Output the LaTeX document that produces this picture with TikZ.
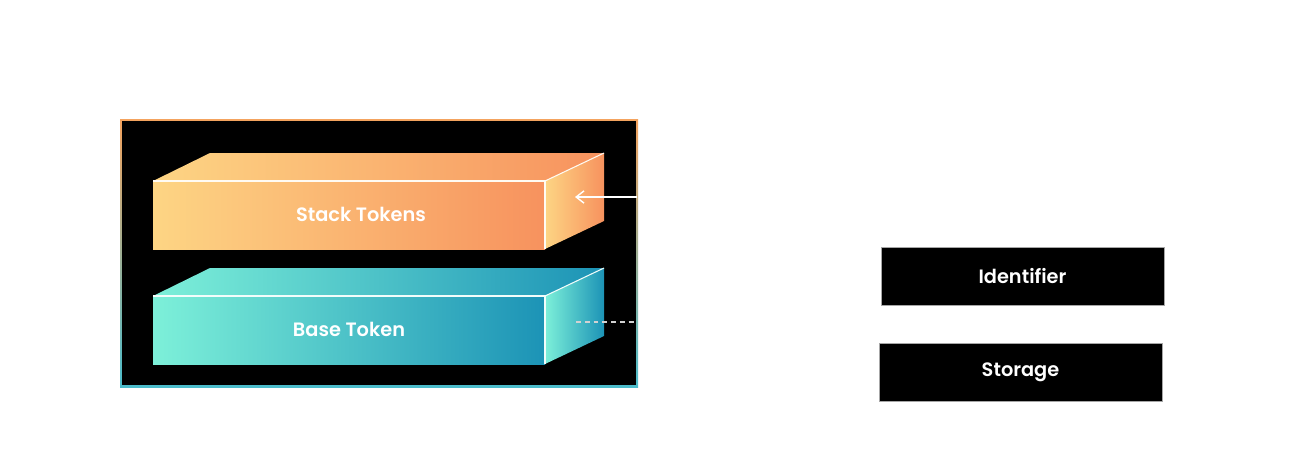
\documentclass[tikz,border=0pt]{standalone}
\usepackage{fontspec}
\setmainfont{Poppins}
\newfontfamily\semibold{Poppins SemiBold}
\usepackage{tikz}
\usetikzlibrary{arrows.meta}

\definecolor{stackL}{HTML}{FDD584}
\definecolor{stackR}{HTML}{F7925E}
\definecolor{baseL}{HTML}{7DF0D9}
\definecolor{baseR}{HTML}{1C93B6}
\definecolor{frameTop}{HTML}{F4A35E}
\definecolor{frameBot}{HTML}{4BBCCB}

\tikzset{
  label text/.style={text=white, font=\semibold\fontsize{11}{13}\selectfont},
  blockbox/.style={draw=gray!70, line width=0.4pt, fill=black, label text,
    minimum width=5.66cm, minimum height=1.16cm, inner sep=0pt},
}

\begin{document}
\begin{tikzpicture}[x=0.02cm,y=-0.02cm]
  \useasboundingbox (0,0) rectangle (1296,474);
  \fill[white] (0,0) rectangle (1296,474);

  % frame
  \shade[top color=frameTop, bottom color=frameBot] (120,119) rectangle (638,387);
  \fill[black] (122,121) rectangle (636,385);

  \foreach \y/\cl/\cr/\tx/\txt/\nm in {181/stackL/stackR/361/Stack Tokens/stack,
                                    296/baseL/baseR/349/Base Token/base}
  {
    \shade[left color=\cl, right color=\cr] (153,\y) -- (210,\y-28) -- (604,\y-28) -- (545,\y) -- cycle;
    \shade[left color=\cl, right color=\cr] (153,\y) rectangle (545,\y+68);
    \shade[left color=\cl, right color=\cr] (545,\y) -- (604,\y-28) -- (604,\y+40) -- (545,\y+68) -- cycle;
    \draw[white!90!\cl, line width=0.6pt] (153,\y) -- (545,\y) -- (545,\y+68);
    \draw[white!90!\cl, line width=0.6pt] (545,\y) -- (604,\y-28);
    \node[label text] (\nm) at (\tx,\y+33) {\txt};
  }

  \coordinate (stackSrc) at (637,197);
  \coordinate (stackIn) at (575,197);
  \draw[white, line width=0.8pt, -{Straight Barb[length=4.5pt,width=7pt]}] (stackSrc) -- (stackIn);

  \coordinate (baseSrc) at (637,322);
  \coordinate (baseOut) at (576,322);
  \draw[gray!35, line width=0.8pt, dash pattern=on 2.8pt off 2.2pt] (baseOut) -- (baseSrc);

  \node[blockbox] (ident) at (1022.5,276) {Identifier};
  \node[blockbox] (store) at (1020.5,372) {Storage};
\end{tikzpicture}
\end{document}
